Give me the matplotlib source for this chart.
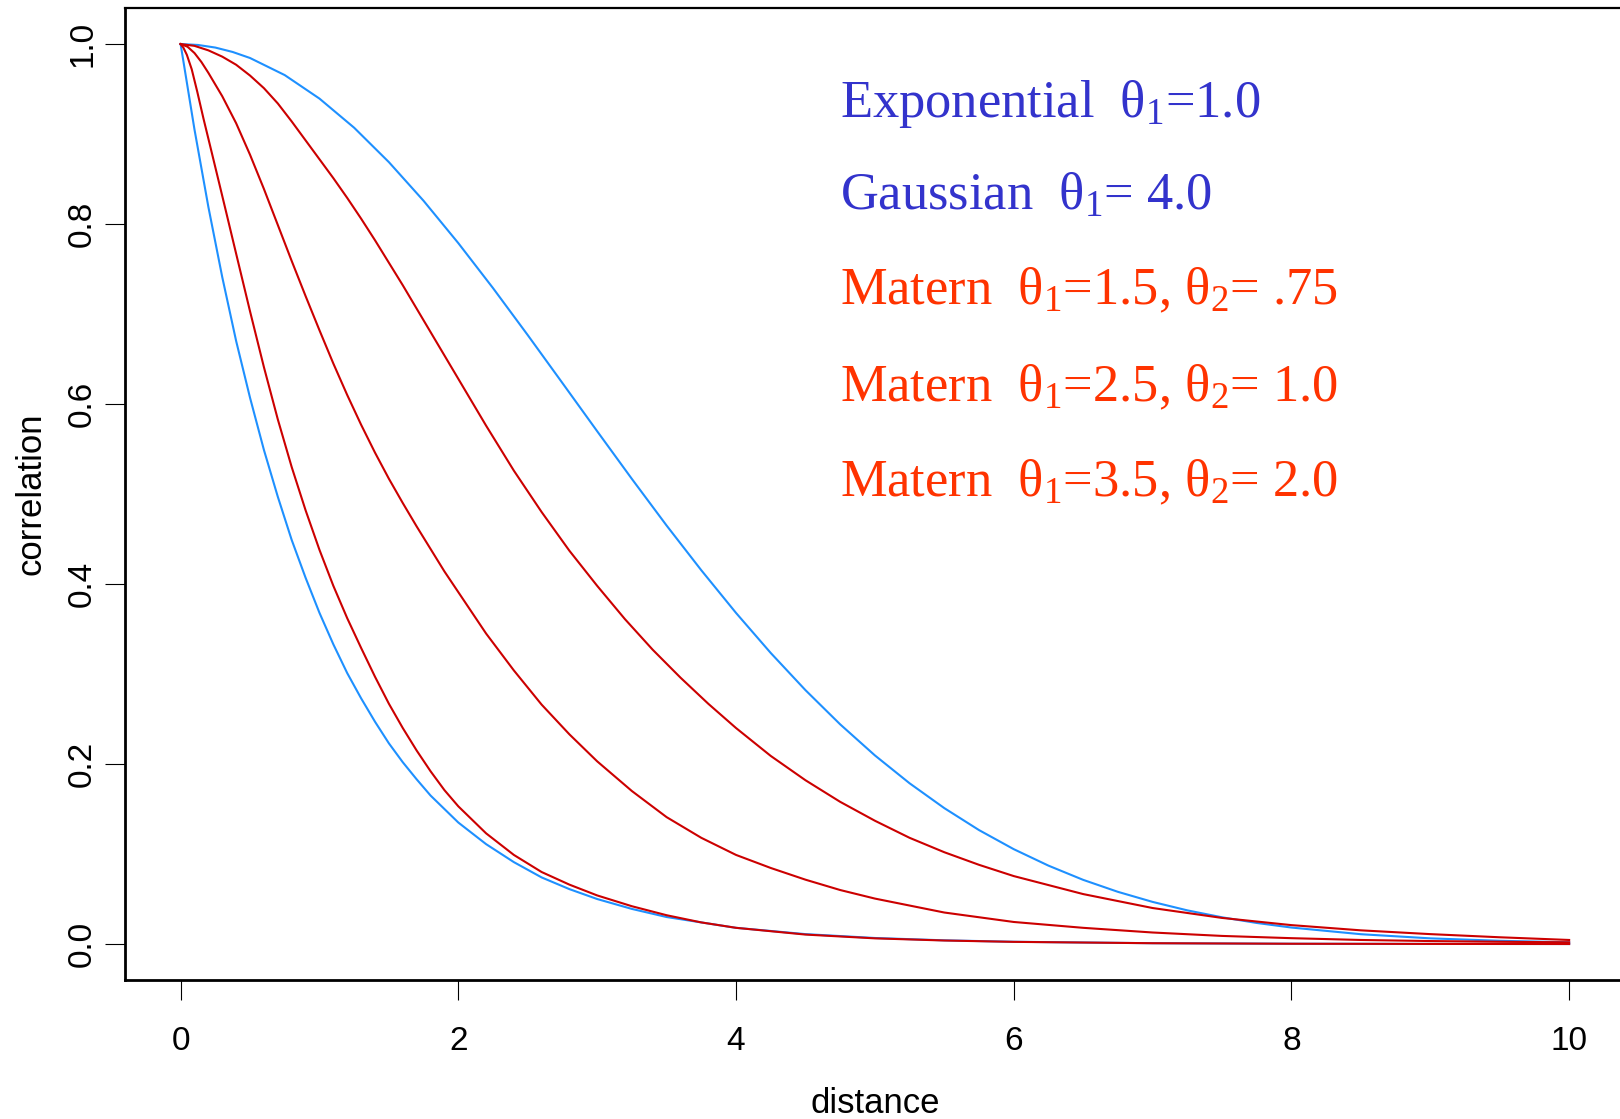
import matplotlib
matplotlib.use('Agg')
import matplotlib.pyplot as plt

plt.rcParams['font.family'] = 'Liberation Sans'
plt.rcParams['mathtext.fontset'] = 'custom'
plt.rcParams['mathtext.rm'] = 'Liberation Serif'
plt.rcParams['mathtext.it'] = 'Liberation Serif:italic'
plt.rcParams['mathtext.bf'] = 'Liberation Serif:bold'

# correlation curves, values
exp_d = [0, 0.1, 0.2, 0.3, 0.4, 0.5, 0.6, 0.7, 0.8, 0.9, 1.0, 1.1, 1.2, 1.3, 1.4, 1.5,
         1.6, 1.7, 1.8, 1.9, 2.0, 2.2, 2.4, 2.6, 2.8, 3.0, 3.25, 3.5, 3.75, 4.0, 4.5,
         5.0, 5.5, 6.0, 7.0, 8.0, 9.0, 10.0]
exp_r = [1.0, 0.905, 0.819, 0.741, 0.670, 0.607, 0.549, 0.497, 0.449, 0.407, 0.368,
         0.333, 0.301, 0.273, 0.247, 0.223, 0.202, 0.183, 0.165, 0.150, 0.135, 0.111,
         0.091, 0.074, 0.061, 0.050, 0.039, 0.030, 0.024, 0.018, 0.011, 0.0067, 0.0041,
         0.0025, 0.0009, 0.0003, 0.0001, 0.0]

gau_d = [0, 0.125, 0.25, 0.375, 0.5, 0.75, 1.0, 1.25, 1.5, 1.75, 2.0, 2.25, 2.5, 2.75,
         3.0, 3.25, 3.5, 3.75, 4.0, 4.25, 4.5, 4.75, 5.0, 5.25, 5.5, 5.75, 6.0, 6.25,
         6.5, 6.75, 7.0, 7.25, 7.5, 7.75, 8.0, 8.5, 9.0, 9.5, 10.0]
gau_r = [1.0, 0.999, 0.9961, 0.9912, 0.9845, 0.9655, 0.9394, 0.9070, 0.8688, 0.8258,
         0.7788, 0.7288, 0.6766, 0.6233, 0.5698, 0.5168, 0.4650, 0.4153, 0.3679, 0.3234,
         0.2821, 0.2441, 0.2096, 0.1786, 0.1510, 0.1266, 0.1054, 0.0871, 0.0713, 0.0580,
         0.0468, 0.0374, 0.0297, 0.0234, 0.0183, 0.0109, 0.0063, 0.0036, 0.0019]

mat1_d = [0, 0.02, 0.045, 0.08, 0.12, 0.165, 0.225, 0.28, 0.33, 0.4, 0.5, 0.6, 0.7,
          0.8, 0.9, 1.0, 1.1, 1.2, 1.3, 1.4, 1.5, 1.6, 1.7, 1.8, 1.9, 2.0, 2.2, 2.4,
          2.6, 2.8, 3.0, 3.25, 3.5, 3.75, 4.0, 4.5, 5.0, 5.5, 6.0, 7.0, 8.0, 9.0, 10.0]
mat1_r = [1.0, 0.996, 0.988, 0.972, 0.947, 0.917, 0.879, 0.844, 0.812, 0.767, 0.703,
          0.641, 0.583, 0.530, 0.482, 0.438, 0.398, 0.362, 0.329, 0.297, 0.267, 0.240,
          0.215, 0.192, 0.171, 0.153, 0.123, 0.099, 0.080, 0.066, 0.054, 0.042, 0.032,
          0.024, 0.018, 0.0105, 0.0063, 0.0039, 0.0024, 0.0009, 0.0003, 0.0001, 0.0]

mat2_d = [0, 0.05, 0.1, 0.15, 0.2, 0.3, 0.4, 0.5, 0.6, 0.7, 0.8, 0.9, 1.0, 1.1, 1.2,
          1.3, 1.4, 1.5, 1.6, 1.7, 1.8, 1.9, 2.0, 2.2, 2.4, 2.6, 2.8, 3.0, 3.25, 3.5,
          3.75, 4.0, 4.25, 4.5, 4.75, 5.0, 5.5, 6.0, 6.5, 7.0, 7.5, 8.0, 8.5, 9.0, 9.5,
          10.0]
mat2_r = [1.0, 0.997, 0.990, 0.980, 0.968, 0.942, 0.912, 0.877, 0.839, 0.799, 0.759,
          0.720, 0.682, 0.645, 0.610, 0.577, 0.546, 0.517, 0.490, 0.464, 0.439, 0.414,
          0.391, 0.345, 0.304, 0.266, 0.233, 0.203, 0.170, 0.141, 0.118, 0.099, 0.0845,
          0.0715, 0.060, 0.0505, 0.035, 0.0245, 0.018, 0.0128, 0.009, 0.0065, 0.0045,
          0.0033, 0.0025, 0.0019]

mat3_d = [0, 0.1, 0.2, 0.3, 0.4, 0.5, 0.6, 0.7, 0.8, 0.9, 1.0, 1.1, 1.2, 1.3, 1.4,
          1.5, 1.6, 1.7, 1.8, 1.9, 2.0, 2.2, 2.4, 2.6, 2.8, 3.0, 3.2, 3.4, 3.6, 3.8,
          4.0, 4.25, 4.5, 4.75, 5.0, 5.25, 5.5, 5.75, 6.0, 6.5, 7.0, 7.5, 8.0, 8.5,
          9.0, 9.5, 10.0]
mat3_r = [1.0, 0.998, 0.993, 0.986, 0.977, 0.965, 0.951, 0.934, 0.914, 0.893, 0.872,
          0.851, 0.829, 0.806, 0.782, 0.757, 0.732, 0.706, 0.680, 0.654, 0.628, 0.576,
          0.526, 0.480, 0.437, 0.398, 0.361, 0.327, 0.296, 0.267, 0.240, 0.209, 0.182,
          0.158, 0.137, 0.118, 0.102, 0.088, 0.0755, 0.0555, 0.040, 0.029, 0.021,
          0.0152, 0.011, 0.0075, 0.0045]

labels = [r'Exponential  $\mathrm{\theta}_1$=1.0',
          r'Gaussian  $\mathrm{\theta}_1$= 4.0',
          r'Matern  $\mathrm{\theta}_1$=1.5, $\mathrm{\theta}_2$= .75',
          r'Matern  $\mathrm{\theta}_1$=2.5, $\mathrm{\theta}_2$= 1.0',
          r'Matern  $\mathrm{\theta}_1$=3.5, $\mathrm{\theta}_2$= 2.0']
label_cols = ['#3333CC', '#3333CC', '#FF3300', '#FF3300', '#FF3300']
label_y = [0.9186, 0.8163, 0.7108, 0.6033, 0.4978]

blue = '#1E90FF'
red = '#CC0000'

fig = plt.figure(figsize=(16.2, 11.19), dpi=100)
ax = fig.add_axes([0.0772, 0.1242, 0.9257, 0.8686])

ax.plot(exp_d, exp_r, color=blue, lw=1.5)
ax.plot(gau_d, gau_r, color=blue, lw=1.5)
ax.plot(mat1_d, mat1_r, color=red, lw=1.5)
ax.plot(mat2_d, mat2_r, color=red, lw=1.5)
ax.plot(mat3_d, mat3_r, color=red, lw=1.5)

for txt, c, y in zip(labels, label_cols, label_y):
    ax.text(4.75, y, txt, color=c, fontsize=37.8, family='Liberation Serif',
            va='baseline', ha='left')

ax.set_xlim(-0.4, 10.4)
ax.set_ylim(-0.04, 1.04)
ax.set_xticks([0, 2, 4, 6, 8, 10])
ax.set_xticklabels(['0', '2', '4', '6', '8', '10'])
ax.set_yticks([0, 0.2, 0.4, 0.6, 0.8, 1.0])
ax.set_yticklabels(['0.0', '0.2', '0.4', '0.6', '0.8', '1.0'], rotation=90, va='center')
ax.tick_params(length=14.4, width=0.8, labelsize=24, direction='out')
ax.tick_params(axis='x', pad=19)
ax.tick_params(axis='y', pad=5)

ax.spines['right'].set_visible(False)
ax.spines['left'].set_linewidth(2.0)
ax.spines['bottom'].set_linewidth(2.0)
ax.spines['top'].set_linewidth(1.6)

fig.text(875 / 1620, 1 - 1113 / 1119, 'distance', fontsize=25, ha='center', va='baseline')
fig.text(31 / 1620, 1 - 494 / 1119, 'correlation', fontsize=25, rotation=90,
         ha='center', va='center')

fig.savefig('out.png', dpi=100)
